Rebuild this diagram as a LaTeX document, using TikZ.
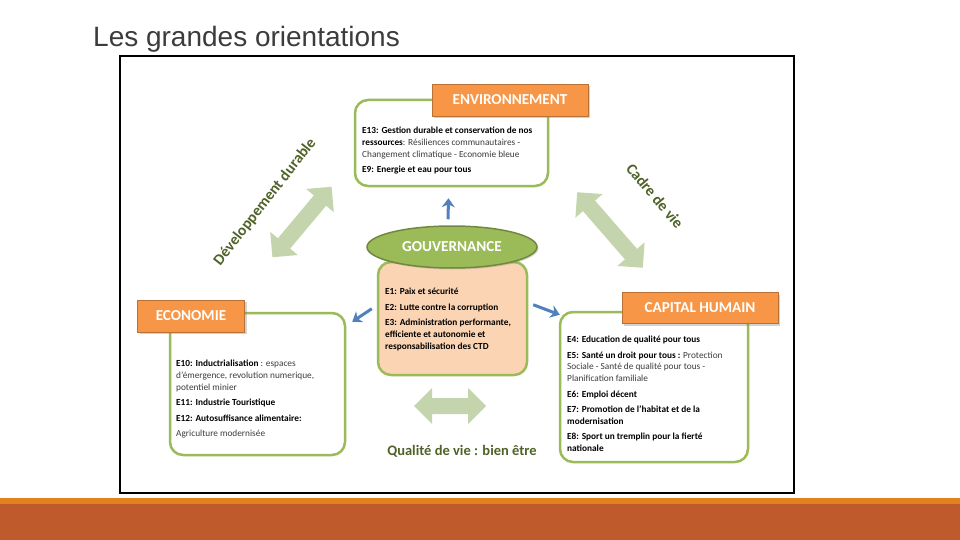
\documentclass[tikz,border=0pt]{standalone}
\usepackage{fontspec}
\setmainfont{Carlito}
\newfontfamily\slidefont{Liberation Sans}
\usetikzlibrary{arrows.meta,calc,fit,shadows,shapes.geometric}
\definecolor{offgreen}{RGB}{155,187,89}
\definecolor{offgreendk}{RGB}{113,137,63}
\definecolor{offorange}{RGB}{247,150,70}
\definecolor{offpeach}{RGB}{251,212,180}
\definecolor{offblue}{RGB}{79,129,189}
\definecolor{offolive}{RGB}{79,98,40}
\definecolor{sage}{RGB}{196,212,172}
\definecolor{bandorange}{RGB}{226,130,30}
\definecolor{bandbrown}{RGB}{191,90,44}
\definecolor{txtgray}{RGB}{60,60,60}
\newcommand{\fatarrow}[4]{% centre x, centre y, angle, half length
  \fill[sage,shift={(#1,#2)},rotate=#3]
    (-#4,0) -- ++(18,-18) -- ++(0,10) -- ({#4-18},-8) -- ++(0,-10)
    -- (#4,0) -- ({#4-18},18) -- ++(0,-10) -- ({-#4+18},8) -- ++(0,10) -- cycle;
}
\newcommand{\axe}[1]{\textbf{\color{black}#1}}
\tikzset{
  greenbox/.style={draw=offgreen,line width=2.5pt,rounded corners=13pt,inner sep=0pt},
  header/.style={fill=offorange,draw=offorange!75!black,line width=.6pt,text=white,
    font=\fontsize{15.2}{15}\selectfont\bfseries,inner sep=0pt,
    drop shadow={opacity=.35,shadow xshift=2pt,shadow yshift=-2pt}},
  bodytext/.style={anchor=north west,align=left,inner sep=0pt,text=txtgray,
    font=\fontsize{9.3}{11.7}\selectfont},
  bluearrow/.style={draw=offblue,line width=3pt,-{Stealth[length=9pt,width=13pt]}},
  rotlabel/.style={text=offolive,font=\fontsize{15.5}{15.5}\selectfont\bfseries,inner sep=0pt}
}

\begin{document}
\begin{tikzpicture}[x=1pt,y=-1pt]
  \useasboundingbox (0,0) rectangle (960,540);
  \fill[white] (0,0) rectangle (960,540);
  \node[anchor=base west,inner sep=0pt,text=txtgray,
    font=\slidefont\fontsize{28}{28}\selectfont] (title) at (93,47) {Les grandes orientations};
  \draw[line width=2pt] (120,56) rectangle (794,493);
  \fill[bandorange] (0,498) rectangle (960,504);
  \fill[bandbrown] (0,504) rectangle (960,540);

  % les trois axes
  \node[greenbox,fit={(355,100) (548,186)}] (envbox) {};
  \node[greenbox,fit={(170,313) (345,455)}] (ecobox) {};
  \node[greenbox,fit={(560,312) (748,462)}] (capbox) {};
  \node[header,minimum width=156pt,minimum height=32pt] (envhead) at (510,100) {ENVIRONNEMENT};
  \node[header,minimum width=107pt,minimum height=32pt] (ecohead) at (191,316) {ECONOMIE};
  \node[header,minimum width=156pt,minimum height=31pt] (caphead) at (700,308) {CAPITAL HUMAIN};

  \node[bodytext] (envtext) at (362,127) {\axe{E13: Gestion durable et conservation de nos}\\
    \axe{ressources}: Résiliences communautaires -\\
    Changement climatique - Economie bleue\\[3.8pt]
    \axe{E9: Energie et eau pour tous}};
  \node[bodytext] (ecotext) at (176,360) {\axe{E10: Inductrialisation} : espaces\\
    d'émergence, revolution numerique,\\
    potentiel minier\\[3.8pt]
    \axe{E11: Industrie Touristique}\\[3.8pt]
    \axe{E12: Autosuffisance alimentaire:}\\[3.8pt]
    Agriculture modernisée};
  \node[bodytext] (captext) at (567,336) {\axe{E4: Education de qualité pour tous}\\[3.8pt]
    \axe{E5: Santé un droit pour tous :} Protection\\
    Sociale - Santé de qualité pour tous -\\
    Planification familiale\\[3.8pt]
    \axe{E6: Emploi décent}\\[3.8pt]
    \axe{E7: Promotion de l'habitat et de la}\\
    \axe{modernisation}\\[3.8pt]
    \axe{E8: Sport un tremplin pour la fierté}\\
    \axe{nationale}};

  % gouvernance au centre
  \node[greenbox,fill=offpeach,fit={(378,262) (527,375)}] (govbox) {};
  \node[ellipse,fill=offgreen,draw=offgreendk,line width=1.5pt,text=white,
    font=\fontsize{15.2}{15}\selectfont\bfseries,minimum width=170pt,minimum height=42pt,
    drop shadow={opacity=.3,shadow xshift=1.5pt,shadow yshift=-1.5pt}] (gov) at (452,247) {GOUVERNANCE};
  \node[bodytext] (govtext) at (385,288) {\axe{E1: Paix et sécurité}\\[3.8pt]
    \axe{E2: Lutte contre la corruption}\\[3.8pt]
    \axe{E3: Administration performante,}\\
    \axe{efficiente et autonomie et}\\
    \axe{responsabilisation des CTD}};

  \draw[bluearrow] ($(gov.north)+(-4,-6)$) -- ($(envbox.south)+(-3,11)$);
  \draw[bluearrow] ($(govbox.north west)+(-5,48)$) -- ($(ecobox.north east)+(6,10)$);
  \draw[bluearrow] ($(govbox.north east)+(5,44)$) -- ($(capbox.north west)+(1,4)$);

  % liens entre les axes
  \fatarrow{302}{222}{50}{46}
  \fatarrow{610}{230}{-49}{50}
  \fatarrow{450}{406}{0}{36}
  \node[rotlabel,rotate=52] (devlabel) at (265,202) {Développement durable};
  \node[rotlabel,rotate=-50] (cadrelabel) at (655,196) {Cadre de vie};
  \node[rotlabel,font=\fontsize{14.5}{14.5}\selectfont\bfseries] (quallabel) at (462,451) {Qualité de vie : bien être};
\end{tikzpicture}
\end{document}
